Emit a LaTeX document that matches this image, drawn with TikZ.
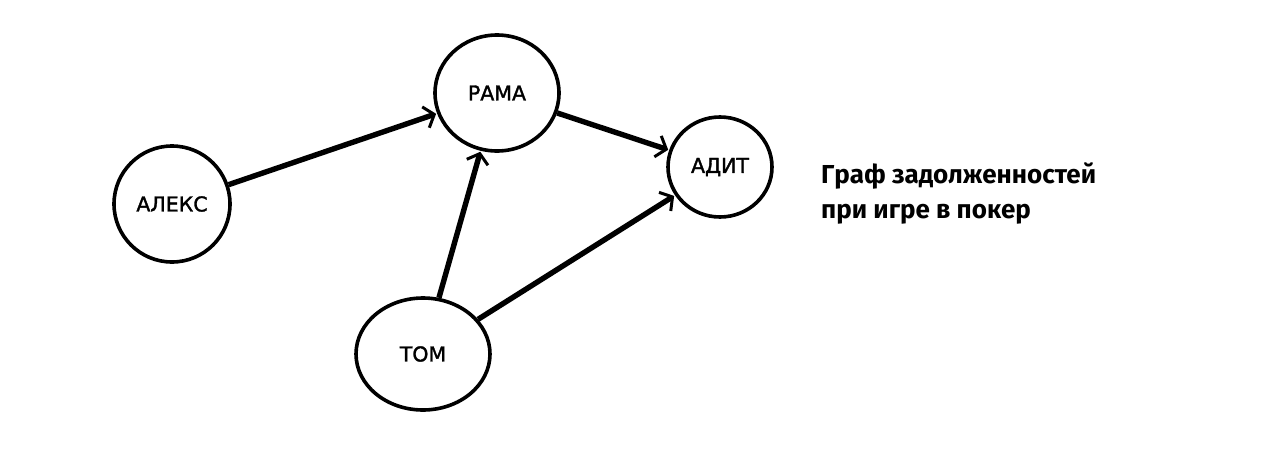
\documentclass[tikz,border=0pt]{standalone}
\usepackage{fontspec}
\setmainfont{Fira Sans}
\newfontfamily\labfont[FakeBold=1.6]{DejaVu Sans}
\usetikzlibrary{arrows.meta,shapes.geometric}
\tikzset{
  person/.style={draw, ellipse, line width=3.6pt, inner sep=0pt, font=\labfont\fontsize{20.5}{20}\selectfont},
  debt/.style={line width=5.4pt, -{Straight Barb[length=9pt,width=22pt,line width=3pt]}, shorten >=1pt},
}
\begin{document}
\begin{tikzpicture}[x=1pt,y=-1pt]
\useasboundingbox (0,0) rectangle (1268,450);
\node[person, minimum width=116pt, minimum height=116pt] (alex) at (172,204) {АЛЕКС};
\node[person, minimum width=124pt, minimum height=116pt] (rama) at (497,93) {РАМА};
\node[person, minimum width=104pt, minimum height=100pt] (adit) at (720,167) {АДИТ};
\node[person, minimum width=134pt, minimum height=112pt] (tom) at (423,354) {ТОМ};
\draw[debt] (alex) -- (rama);
\draw[debt] (rama) -- (adit);
\draw[debt] (tom) -- (rama);
\draw[debt] (tom) -- (adit);
\node[anchor=base west, align=left, inner sep=0pt, font=\fontsize{26}{35}\selectfont\bfseries] (cap) at (821,218) {Граф задолженностей\\при игре в покер};
\end{tikzpicture}
\end{document}
